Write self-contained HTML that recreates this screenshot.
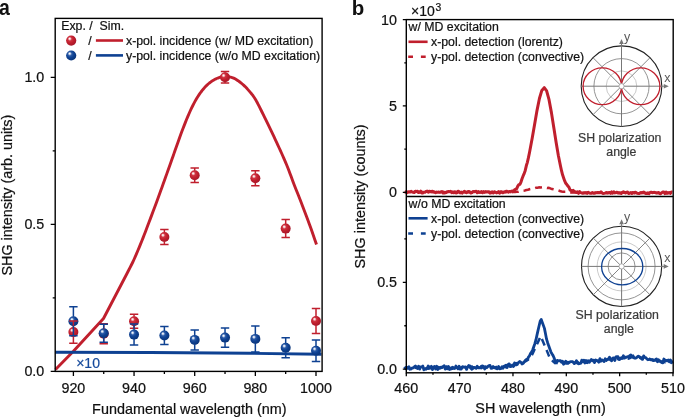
<!DOCTYPE html>
<html><head><meta charset="utf-8"><style>
html,body{margin:0;padding:0;background:#fff;}
body{width:685px;height:417px;overflow:hidden;font-family:"Liberation Sans",sans-serif;}
svg{display:block;will-change:transform;}
</style></head><body><svg width="685" height="417" viewBox="0 0 685 417" font-family="'Liberation Sans', sans-serif"><defs><radialGradient id="gr" cx="0.42" cy="0.4" r="0.62" fx="0.34" fy="0.3"><stop offset="0" stop-color="#ffffff"/><stop offset="0.12" stop-color="#f6d6d8"/><stop offset="0.32" stop-color="#cf3341"/><stop offset="0.6" stop-color="#c11f2d"/><stop offset="1" stop-color="#a5172a"/></radialGradient><radialGradient id="gb" cx="0.42" cy="0.4" r="0.62" fx="0.34" fy="0.3"><stop offset="0" stop-color="#ffffff"/><stop offset="0.12" stop-color="#d3ddef"/><stop offset="0.32" stop-color="#2a5aa6"/><stop offset="0.6" stop-color="#0e4192"/><stop offset="1" stop-color="#0a3377"/></radialGradient></defs><path d="M55.50,369.60 L73.40,351.30 L103.50,318.50 L127.00,273.50 L127.75,272.03 L128.79,270.04 L130.01,267.66 L131.35,265.02 L132.71,262.26 L134.00,259.50 L135.26,256.68 L136.56,253.69 L137.88,250.56 L139.21,247.37 L140.52,244.16 L141.80,241.00 L143.04,237.89 L144.25,234.78 L145.44,231.66 L146.64,228.50 L147.85,225.29 L149.10,222.00 L150.39,218.61 L151.71,215.13 L153.04,211.59 L154.38,208.04 L155.71,204.49 L157.00,201.00 L158.27,197.53 L159.53,194.06 L160.78,190.59 L162.01,187.17 L163.22,183.80 L164.40,180.50 L165.55,177.28 L166.68,174.13 L167.79,171.03 L168.87,167.98 L169.94,164.97 L171.00,162.00 L172.03,159.07 L173.04,156.20 L174.04,153.38 L175.02,150.57 L176.01,147.79 L177.00,145.00 L177.99,142.23 L178.96,139.50 L179.92,136.78 L180.91,134.06 L181.93,131.30 L183.00,128.50 L184.13,125.60 L185.31,122.60 L186.53,119.58 L187.76,116.59 L188.99,113.71 L190.20,111.00 L191.40,108.45 L192.60,106.00 L193.80,103.66 L195.00,101.43 L196.20,99.31 L197.40,97.30 L198.60,95.41 L199.80,93.65 L201.00,91.99 L202.20,90.44 L203.40,88.98 L204.60,87.60 L205.80,86.31 L207.00,85.12 L208.20,84.02 L209.40,83.00 L210.60,82.07 L211.80,81.20 L213.01,80.41 L214.24,79.70 L215.48,79.06 L216.69,78.50 L217.87,78.02 L219.00,77.60 L220.04,77.25 L220.99,76.98 L221.91,76.78 L222.85,76.65 L223.86,76.59 L225.00,76.60 L226.28,76.65 L227.67,76.75 L229.13,76.92 L230.63,77.18 L232.13,77.57 L233.60,78.10 L235.06,78.81 L236.55,79.69 L238.04,80.68 L239.51,81.76 L240.94,82.88 L242.30,84.00 L243.60,85.14 L244.87,86.35 L246.09,87.59 L247.27,88.86 L248.40,90.14 L249.50,91.40 L250.54,92.62 L251.51,93.79 L252.44,94.98 L253.35,96.21 L254.26,97.53 L255.20,99.00 L256.14,100.59 L257.07,102.28 L258.01,104.06 L258.96,105.93 L259.95,107.91 L261.00,110.00 L262.12,112.23 L263.30,114.61 L264.51,117.09 L265.75,119.63 L266.98,122.18 L268.20,124.70 L269.40,127.19 L270.60,129.68 L271.80,132.19 L273.00,134.71 L274.20,137.24 L275.40,139.80 L276.62,142.41 L277.86,145.07 L279.09,147.75 L280.31,150.41 L281.49,153.00 L282.60,155.50 L283.64,157.87 L284.63,160.14 L285.58,162.36 L286.49,164.54 L287.40,166.75 L288.30,169.00 L289.16,171.23 L289.97,173.41 L290.76,175.59 L291.59,177.87 L292.48,180.31 L293.50,183.00 L294.66,185.98 L295.93,189.19 L297.28,192.57 L298.67,196.04 L300.05,199.55 L301.40,203.00 L302.72,206.43 L304.06,209.91 L305.39,213.41 L306.72,216.92 L308.02,220.42 L309.30,223.90 L310.62,227.59 L312.02,231.55 L313.39,235.51 L314.66,239.17 L315.72,242.26 L316.50,244.50" fill="none" stroke="#c01f2d" stroke-width="2.9" stroke-linejoin="round"/><path d="M55.2,352.2 L150,352.5 L250,353.3 L321.5,354.2" fill="none" stroke="#0e4192" stroke-width="2.9"/><circle cx="73.40" cy="332.10" r="5.0" fill="url(#gr)"/><circle cx="103.73" cy="333.80" r="5.0" fill="url(#gr)"/><circle cx="134.05" cy="321.20" r="5.0" fill="url(#gr)"/><circle cx="164.38" cy="237.00" r="5.0" fill="url(#gr)"/><circle cx="194.70" cy="175.30" r="5.0" fill="url(#gr)"/><circle cx="225.03" cy="77.30" r="5.0" fill="url(#gr)"/><circle cx="255.35" cy="178.20" r="5.0" fill="url(#gr)"/><circle cx="285.68" cy="228.60" r="5.0" fill="url(#gr)"/><circle cx="316.00" cy="321.00" r="5.0" fill="url(#gr)"/><circle cx="73.40" cy="321.30" r="5.0" fill="url(#gb)"/><circle cx="103.73" cy="333.30" r="5.0" fill="url(#gb)"/><circle cx="134.05" cy="334.60" r="5.0" fill="url(#gb)"/><circle cx="164.38" cy="335.50" r="5.0" fill="url(#gb)"/><circle cx="194.70" cy="339.90" r="5.0" fill="url(#gb)"/><circle cx="225.03" cy="337.60" r="5.0" fill="url(#gb)"/><circle cx="255.35" cy="338.90" r="5.0" fill="url(#gb)"/><circle cx="285.68" cy="347.80" r="5.0" fill="url(#gb)"/><circle cx="316.00" cy="350.70" r="5.0" fill="url(#gb)"/><path d="M73.40,320.90 V327.60 M73.40,336.60 V343.30 M69.20,320.90 H77.60 M69.20,343.30 H77.60" stroke="#c01f2d" stroke-width="1.5" fill="none"/><path d="M103.73,323.80 V329.30 M103.73,338.30 V343.80 M99.53,323.80 H107.93 M99.53,343.80 H107.93" stroke="#c01f2d" stroke-width="1.5" fill="none"/><path d="M134.05,314.20 V316.70 M134.05,325.70 V328.20 M129.85,314.20 H138.25 M129.85,328.20 H138.25" stroke="#c01f2d" stroke-width="1.5" fill="none"/><path d="M164.38,229.50 V232.50 M164.38,241.50 V244.50 M160.18,229.50 H168.57 M160.18,244.50 H168.57" stroke="#c01f2d" stroke-width="1.5" fill="none"/><path d="M194.70,168.10 V170.80 M194.70,179.80 V182.50 M190.50,168.10 H198.90 M190.50,182.50 H198.90" stroke="#c01f2d" stroke-width="1.5" fill="none"/><path d="M225.03,71.50 V72.80 M225.03,81.80 V83.10 M220.83,71.50 H229.22 M220.83,83.10 H229.22" stroke="#c01f2d" stroke-width="1.5" fill="none"/><path d="M255.35,170.70 V173.70 M255.35,182.70 V185.70 M251.15,170.70 H259.55 M251.15,185.70 H259.55" stroke="#c01f2d" stroke-width="1.5" fill="none"/><path d="M285.68,219.60 V224.10 M285.68,233.10 V237.60 M281.48,219.60 H289.88 M281.48,237.60 H289.88" stroke="#c01f2d" stroke-width="1.5" fill="none"/><path d="M316.00,308.50 V316.50 M316.00,325.50 V333.50 M311.80,308.50 H320.20 M311.80,333.50 H320.20" stroke="#c01f2d" stroke-width="1.5" fill="none"/><path d="M73.40,306.80 V316.80 M73.40,325.80 V335.80 M69.20,306.80 H77.60 M69.20,335.80 H77.60" stroke="#0e4192" stroke-width="1.5" fill="none"/><path d="M103.73,324.30 V328.80 M103.73,337.80 V342.30 M99.53,324.30 H107.93 M99.53,342.30 H107.93" stroke="#0e4192" stroke-width="1.5" fill="none"/><path d="M134.05,324.10 V330.10 M134.05,339.10 V345.10 M129.85,324.10 H138.25 M129.85,345.10 H138.25" stroke="#0e4192" stroke-width="1.5" fill="none"/><path d="M164.38,326.50 V331.00 M164.38,340.00 V344.50 M160.18,326.50 H168.57 M160.18,344.50 H168.57" stroke="#0e4192" stroke-width="1.5" fill="none"/><path d="M194.70,329.90 V335.40 M194.70,344.40 V349.90 M190.50,329.90 H198.90 M190.50,349.90 H198.90" stroke="#0e4192" stroke-width="1.5" fill="none"/><path d="M225.03,328.00 V333.10 M225.03,342.10 V347.20 M220.83,328.00 H229.22 M220.83,347.20 H229.22" stroke="#0e4192" stroke-width="1.5" fill="none"/><path d="M255.35,325.90 V334.40 M255.35,343.40 V351.90 M251.15,325.90 H259.55 M251.15,351.90 H259.55" stroke="#0e4192" stroke-width="1.5" fill="none"/><path d="M285.68,337.80 V343.30 M285.68,352.30 V357.80 M281.48,337.80 H289.88 M281.48,357.80 H289.88" stroke="#0e4192" stroke-width="1.5" fill="none"/><path d="M316.00,340.00 V346.20 M316.00,355.20 V361.40 M311.80,340.00 H320.20 M311.80,361.40 H320.20" stroke="#0e4192" stroke-width="1.5" fill="none"/><text x="76.2" y="368.3" font-size="14" fill="#164a9c" stroke="#164a9c" stroke-width="0.22">×10</text><rect x="55.2" y="18.4" width="266.90000000000003" height="353.0" fill="none" stroke="#000" stroke-width="1.4"/><path d="M50.70,371.40 H55.2 M50.70,224.35 H55.2 M50.70,77.30 H55.2 M52.70,297.88 H55.2 M52.70,150.82 H55.2 M73.40,371.4 V376.0 M134.05,371.4 V376.0 M194.70,371.4 V376.0 M255.35,371.4 V376.0 M316.00,371.4 V376.0 M103.73,371.4 V373.9 M164.38,371.4 V373.9 M225.03,371.4 V373.9 M285.68,371.4 V373.9" stroke="#000" stroke-width="1.3" fill="none"/><text x="44.3" y="376.40" font-size="14.3" text-anchor="end" fill="#111" stroke="#111" stroke-width="0.22">0.0</text><text x="44.3" y="229.35" font-size="14.3" text-anchor="end" fill="#111" stroke="#111" stroke-width="0.22">0.5</text><text x="44.3" y="82.30" font-size="14.3" text-anchor="end" fill="#111" stroke="#111" stroke-width="0.22">1.0</text><text x="73.40" y="392.7" font-size="14.3" text-anchor="middle" fill="#111" stroke="#111" stroke-width="0.22">920</text><text x="134.05" y="392.7" font-size="14.3" text-anchor="middle" fill="#111" stroke="#111" stroke-width="0.22">940</text><text x="194.70" y="392.7" font-size="14.3" text-anchor="middle" fill="#111" stroke="#111" stroke-width="0.22">960</text><text x="255.35" y="392.7" font-size="14.3" text-anchor="middle" fill="#111" stroke="#111" stroke-width="0.22">980</text><text x="316.00" y="392.7" font-size="14.3" text-anchor="middle" fill="#111" stroke="#111" stroke-width="0.22">1000</text><text x="189.3" y="413.9" font-size="14.4" text-anchor="middle" fill="#111" stroke="#111" stroke-width="0.22">Fundamental wavelength (nm)</text><text transform="translate(11.6,195.2) rotate(-90)" font-size="14.4" text-anchor="middle" fill="#111" stroke="#111" stroke-width="0.22">SHG intensity (arb. units)</text><text transform="translate(-0.9,14.7) scale(0.95,1.08)" font-size="20.5" font-weight="bold" fill="#111">a</text><text x="61.2" y="29.9" font-size="12.3" fill="#111" xml:space="preserve" stroke="#111" stroke-width="0.22">Exp. /  Sim.</text><circle cx="71.2" cy="40.6" r="5.1" fill="url(#gr)"/><circle cx="71.2" cy="55.5" r="5.1" fill="url(#gb)"/><text x="88.3" y="44.6" font-size="12.3" fill="#111" stroke="#111" stroke-width="0.22">/</text><text x="88.3" y="59.5" font-size="12.3" fill="#111" stroke="#111" stroke-width="0.22">/</text><path d="M95.9,40.5 H123" stroke="#c01f2d" stroke-width="2.6"/><path d="M95.9,55.4 H123" stroke="#0e4192" stroke-width="2.6"/><text x="126" y="44.6" font-size="12.3" fill="#111" stroke="#111" stroke-width="0.22">x-pol. incidence (w/ MD excitation)</text><text x="126" y="59.5" font-size="12.3" fill="#111" stroke="#111" stroke-width="0.22">y-pol. incidence (w/o MD excitation)</text><path d="M404.70,191.86 L405.77,192.07 L406.83,192.76 L407.90,191.90 L408.97,191.98 L410.03,192.13 L411.10,191.37 L412.17,192.00 L413.23,192.23 L414.30,192.54 L415.37,191.22 L416.43,191.62 L417.50,191.22 L418.57,192.59 L419.63,192.37 L420.70,191.14 L421.77,192.93 L422.83,192.90 L423.90,192.31 L424.97,192.24 L426.03,191.37 L427.10,191.11 L428.17,192.09 L429.23,191.20 L430.30,191.45 L431.37,191.55 L432.43,191.15 L433.50,191.98 L434.57,191.94 L435.63,192.71 L436.70,192.10 L437.77,192.33 L438.83,192.07 L439.90,192.38 L440.97,192.00 L442.04,191.66 L443.10,193.03 L444.17,193.03 L445.24,192.74 L446.30,192.49 L447.37,191.75 L448.44,191.59 L449.50,191.71 L450.57,191.30 L451.64,192.62 L452.70,191.93 L453.77,192.78 L454.84,191.91 L455.90,193.00 L456.97,192.79 L458.04,191.19 L459.10,191.59 L460.17,192.93 L461.24,192.09 L462.30,193.07 L463.37,191.96 L464.44,191.35 L465.50,192.41 L466.57,192.70 L467.64,191.74 L468.70,191.39 L469.77,191.86 L470.84,193.07 L471.90,192.68 L472.97,191.47 L474.04,191.71 L475.10,191.44 L476.17,191.37 L477.24,192.77 L478.30,191.60 L479.37,192.33 L480.44,192.12 L481.50,191.63 L482.57,192.67 L483.64,191.53 L484.70,192.51 L485.77,191.51 L486.84,192.09 L487.90,191.70 L488.97,191.81 L490.04,193.15 L491.10,192.83 L492.17,191.89 L493.24,193.00 L494.30,191.72 L495.37,192.07 L496.44,192.95 L497.50,192.55 L498.57,191.52 L499.64,193.21 L500.70,191.74 L501.77,191.82 L502.84,192.79 L503.90,191.93 L504.97,191.84 L506.04,191.37 L507.11,191.34 L508.17,192.18 L509.24,191.39 L510.31,191.87 L511.37,191.16 L512.44,190.93 L513.51,191.40 L514.57,189.85 L515.64,189.20 L516.71,188.74 L517.77,186.20 L518.84,184.65 L519.91,184.31 L520.97,182.04 L522.04,178.68 L523.11,175.93 L524.17,173.65 L525.24,170.44 L526.31,165.80 L527.37,162.35 L528.44,157.67 L529.51,152.45 L532.23,138.08 L534.63,124.17 L537.03,110.36 L539.43,98.46 L541.83,90.40 L544.23,87.68 L546.63,90.94 L549.03,99.72 L551.43,112.63 L553.83,127.73 L556.23,143.02 L558.31,155.22 L559.37,160.47 L560.44,165.70 L561.51,170.72 L562.57,174.85 L563.64,177.94 L564.71,180.95 L565.77,183.27 L566.84,184.57 L567.91,185.99 L568.97,187.27 L570.04,190.03 L571.11,190.47 L572.17,191.61 L573.24,190.32 L574.31,191.86 L575.38,191.84 L576.44,192.52 L577.51,191.89 L578.58,193.29 L579.64,191.61 L580.71,192.56 L581.78,192.96 L582.84,193.30 L583.91,193.01 L584.98,192.96 L586.04,193.14 L587.11,193.38 L588.18,192.32 L589.24,192.96 L590.31,193.37 L591.38,193.32 L592.44,192.46 L593.51,193.17 L594.58,193.32 L595.64,192.77 L596.71,192.87 L597.78,192.41 L598.84,192.80 L599.91,192.85 L600.98,191.85 L602.04,192.92 L603.11,193.59 L604.18,193.38 L605.24,193.10 L606.31,192.46 L607.38,193.12 L608.44,192.83 L609.51,192.57 L610.58,193.33 L611.64,191.90 L612.71,193.17 L613.78,191.80 L614.84,192.89 L615.91,192.67 L616.98,192.19 L618.04,193.09 L619.11,192.71 L620.18,192.93 L621.24,193.52 L622.31,192.26 L623.38,191.80 L624.44,192.35 L625.51,193.07 L626.58,192.17 L627.64,192.12 L628.71,193.52 L629.78,193.05 L630.84,192.64 L631.91,193.50 L632.98,192.43 L634.04,193.08 L635.11,192.20 L636.18,192.64 L637.24,193.36 L638.31,193.57 L639.38,193.51 L640.45,192.57 L641.51,192.95 L642.58,192.45 L643.65,192.11 L644.71,192.80 L645.78,193.45 L646.85,193.47 L647.91,193.22 L648.98,193.67 L650.05,192.40 L651.11,192.20 L652.18,192.74 L653.25,192.41 L654.31,192.29 L655.38,192.68 L656.45,193.08 L657.51,192.84 L658.58,192.50 L659.65,193.50 L660.71,193.78 L661.78,192.77 L662.85,192.06 L663.91,191.98 L664.98,193.58 L666.05,192.01 L667.11,193.28 L668.18,193.02 L669.25,192.53 L670.31,193.45 L671.38,191.99 L672.45,192.21" fill="none" stroke="#c01f2d" stroke-width="3.0" stroke-linejoin="round"/><path d="M404.70,191.94 L406.30,192.03 L407.90,192.04 L409.50,191.79 L411.10,191.73 L412.70,191.91 L414.30,191.87 L415.90,192.14 L417.50,192.09 L419.10,192.05 L420.70,192.03 L422.30,192.09 L423.90,191.84 L425.50,191.99 L427.10,191.86 L428.70,192.24 L430.30,191.82 L431.90,192.21 L433.50,191.84 L435.10,192.15 L436.70,191.98 L438.30,192.02 L439.90,192.25 L441.50,191.84 L443.10,191.87 L444.70,192.30 L446.30,192.10 L447.90,191.90 L449.50,192.35 L451.10,192.34 L452.70,191.93 L454.30,192.09 L455.90,191.95 L457.50,192.04 L459.10,192.20 L460.70,191.98 L462.30,192.25 L463.90,191.94 L465.50,192.00 L467.10,192.33 L468.70,192.13 L470.30,192.14 L471.90,192.24 L473.50,192.18 L475.10,192.14 L476.70,191.97 L478.30,192.32 L479.90,192.45 L481.50,192.46 L483.10,192.31 L484.70,192.16 L486.30,192.17 L487.90,192.34 L489.50,192.34 L491.10,192.06 L492.70,192.13 L494.30,192.20 L495.90,192.28 L497.50,192.43 L499.10,192.28 L500.70,192.04 L502.30,192.44 L503.90,192.24 L505.50,192.27 L507.11,192.11 L508.71,192.19 L510.31,192.13 L511.91,192.26 L513.51,191.85 L515.11,191.98 L516.71,191.66 L518.31,191.75 L519.91,191.22 L521.51,191.09 L523.11,190.83 L524.71,190.65 L526.31,189.98 L527.91,189.79 L529.51,189.25 L531.11,188.86 L532.71,188.55 L534.31,188.41 L535.91,187.83 L537.51,187.80 L539.11,187.21 L540.71,187.49 L542.31,187.20 L543.91,187.19 L545.51,187.65 L547.11,187.99 L548.71,187.86 L550.31,188.37 L551.91,189.04 L553.51,189.26 L555.11,189.64 L556.71,189.94 L558.31,190.35 L559.91,190.99 L561.51,191.49 L563.11,191.77 L564.71,191.75 L566.31,191.70 L567.91,192.01 L569.51,192.36 L571.11,192.48 L572.71,192.46 L574.31,192.31 L575.91,192.50 L577.51,192.50 L579.11,192.60 L580.71,192.44 L582.31,192.79 L583.91,192.78 L585.51,192.42 L587.11,192.49 L588.71,192.79 L590.31,192.50 L591.91,192.84 L593.51,192.63 L595.11,192.72 L596.71,192.74 L598.31,192.50 L599.91,192.54 L601.51,192.53 L603.11,192.75 L604.71,192.76 L606.31,192.48 L607.91,192.87 L609.51,192.64 L611.11,192.55 L612.71,192.66 L614.31,192.94 L615.91,192.73 L617.51,192.77 L619.11,192.92 L620.71,192.95 L622.31,192.85 L623.91,192.69 L625.51,192.78 L627.11,192.94 L628.71,192.89 L630.31,192.79 L631.91,192.68 L633.51,192.70 L635.11,192.89 L636.71,192.81 L638.31,192.54 L639.91,192.89 L641.51,192.99 L643.11,192.95 L644.71,193.00 L646.31,193.01 L647.91,192.83 L649.51,192.97 L651.11,192.77 L652.71,192.63 L654.31,192.76 L655.91,192.75 L657.51,193.07 L659.11,192.95 L660.71,192.88 L662.31,192.93 L663.91,192.68 L665.51,192.89 L667.11,192.98 L668.71,192.84 L670.31,192.77 L671.91,192.85" fill="none" stroke="#c01f2d" stroke-width="2.5" stroke-dasharray="7,5"/><path d="M404.70,368.81 L406.30,367.34 L407.90,367.12 L409.50,368.86 L411.10,367.38 L412.70,367.26 L414.30,368.20 L415.90,367.64 L417.50,368.61 L419.10,367.42 L420.70,368.72 L422.30,367.55 L423.90,368.05 L425.50,368.64 L427.10,368.18 L428.70,368.60 L430.30,368.20 L431.90,367.00 L433.50,368.49 L435.10,367.94 L436.70,367.42 L438.30,367.18 L439.90,368.35 L441.50,367.85 L443.10,368.47 L444.70,368.15 L446.30,368.47 L447.90,367.73 L449.50,367.95 L451.10,367.78 L452.70,367.12 L454.30,368.35 L455.90,367.17 L457.50,368.00 L459.10,368.29 L460.70,367.73 L462.30,366.80 L463.90,368.02 L465.50,367.73 L467.10,366.85 L468.70,366.59 L470.30,367.45 L471.90,366.54 L473.50,368.14 L475.10,367.37 L476.70,367.38 L478.30,367.18 L479.90,367.62 L481.50,368.07 L483.10,366.96 L484.70,367.07 L486.30,367.44 L487.90,366.89 L489.50,367.39 L491.10,367.26 L492.70,367.03 L494.30,367.43 L495.90,367.13 L497.50,366.30 L499.10,367.90 L500.70,366.72 L502.30,366.82 L503.90,366.56 L505.50,367.31 L507.11,367.14 L508.71,366.15 L510.31,365.74 L511.91,364.99 L513.51,366.22 L515.11,364.64 L516.71,364.88 L518.31,364.09 L519.91,363.62 L521.51,363.24 L523.11,362.56 L524.71,361.68 L526.31,360.96 L527.91,359.80 L529.51,358.26 L531.11,356.63 L532.71,353.53 L534.31,349.91 L535.91,346.54 L537.51,343.11 L539.11,339.64 L540.71,336.18 L542.31,339.95 L543.91,343.72 L545.51,347.50 L547.11,351.38 L548.71,355.40 L550.31,359.23 L551.91,360.38 L553.51,361.86 L555.11,363.09 L556.71,362.83 L558.31,363.55 L559.91,363.76 L561.51,363.46 L563.11,364.09 L564.71,362.42 L566.31,363.29 L567.91,363.53 L569.51,363.00 L571.11,362.62 L572.71,363.45 L574.31,362.87 L575.91,362.46 L577.51,361.94 L579.11,363.49 L580.71,362.27 L582.31,361.74 L583.91,361.80 L585.51,361.76 L587.11,362.75 L588.71,361.40 L590.31,361.44 L591.91,360.93 L593.51,361.42 L595.11,360.76 L596.71,360.83 L598.31,361.35 L599.91,361.51 L601.51,361.16 L603.11,359.54 L604.71,359.97 L606.31,360.64 L607.91,358.98 L609.51,359.11 L611.11,359.51 L612.71,359.21 L614.31,359.76 L615.91,359.59 L617.51,359.03 L619.11,358.53 L620.71,358.34 L622.31,358.22 L623.91,357.68 L625.51,358.58 L627.11,357.48 L628.71,358.61 L630.31,357.99 L631.91,357.03 L633.51,357.92 L635.11,358.21 L636.71,357.29 L638.31,358.19 L639.91,357.46 L641.51,358.88 L643.11,357.61 L644.71,358.84 L646.31,359.77 L647.91,359.82 L649.51,359.01 L651.11,359.85 L652.71,359.44 L654.31,360.10 L655.91,361.34 L657.51,361.55 L659.11,360.40 L660.71,361.26 L662.31,361.87 L663.91,361.18 L665.51,362.46 L667.11,362.77 L668.71,362.30 L670.31,362.10 L671.91,363.13" fill="none" stroke="#0e4192" stroke-width="2.5" stroke-dasharray="7,5"/><path d="M404.70,366.64 L405.77,368.74 L406.83,368.52 L407.90,367.89 L408.97,366.83 L410.03,369.13 L411.10,369.18 L412.17,367.99 L413.23,367.96 L414.30,366.88 L415.37,365.94 L416.43,367.40 L417.50,368.25 L418.57,366.18 L419.63,369.07 L420.70,366.82 L421.77,366.81 L422.83,366.04 L423.90,369.86 L424.97,368.82 L426.03,369.35 L427.10,368.31 L428.17,365.98 L429.23,367.15 L430.30,367.82 L431.37,366.28 L432.43,369.62 L433.50,367.28 L434.57,366.41 L435.63,369.04 L436.70,366.26 L437.77,369.46 L438.83,367.55 L439.90,367.93 L440.97,367.08 L442.04,367.63 L443.10,366.43 L444.17,365.81 L445.24,369.11 L446.30,366.58 L447.37,368.74 L448.44,366.44 L449.50,369.47 L450.57,369.16 L451.64,368.59 L452.70,368.60 L453.77,367.86 L454.84,368.44 L455.90,366.00 L456.97,367.40 L458.04,368.79 L459.10,366.27 L460.17,369.15 L461.24,369.00 L462.30,367.08 L463.37,366.90 L464.44,367.24 L465.50,366.97 L466.57,369.40 L467.64,366.96 L468.70,365.51 L469.77,365.77 L470.84,368.26 L471.90,369.35 L472.97,367.36 L474.04,367.33 L475.10,367.56 L476.17,368.35 L477.24,366.24 L478.30,367.78 L479.37,367.56 L480.44,367.82 L481.50,366.04 L482.57,365.99 L483.64,366.70 L484.70,369.01 L485.77,366.68 L486.84,367.66 L487.90,366.46 L488.97,365.61 L490.04,365.43 L491.10,368.39 L492.17,368.21 L493.24,366.56 L494.30,367.76 L495.37,367.70 L496.44,368.55 L497.50,368.76 L498.57,366.52 L499.64,368.81 L500.70,368.66 L501.77,367.15 L502.84,368.21 L503.90,366.46 L504.97,365.82 L506.04,365.12 L507.11,367.46 L508.17,364.42 L509.24,363.87 L510.31,366.63 L511.37,366.32 L512.44,364.98 L513.51,366.21 L514.57,362.89 L515.64,363.42 L516.71,363.26 L517.77,363.49 L518.84,362.21 L519.91,361.51 L520.97,362.30 L522.04,363.95 L523.11,363.51 L524.17,361.96 L525.24,360.52 L526.31,359.39 L527.37,359.64 L528.44,357.11 L529.51,355.79 L530.57,353.27 L531.64,351.94 L532.71,349.81 L533.77,346.70 L534.84,343.67 L535.91,339.98 L536.97,335.13 L538.04,330.35 L539.11,325.76 L540.17,321.32 L541.24,319.48 L542.31,322.43 L543.37,325.40 L544.44,328.38 L545.51,333.78 L546.57,339.18 L547.64,342.69 L548.71,345.83 L549.77,348.71 L550.84,351.80 L551.91,353.75 L552.97,355.36 L554.04,357.71 L555.11,360.96 L556.17,361.77 L557.24,360.34 L558.31,360.83 L559.37,360.75 L560.44,360.55 L561.51,362.33 L562.57,361.18 L563.64,364.13 L564.71,363.33 L565.77,361.26 L566.84,362.96 L567.91,362.15 L568.97,362.87 L570.04,361.82 L571.11,361.53 L572.17,361.53 L573.24,362.23 L574.31,363.48 L575.38,362.77 L576.44,360.68 L577.51,363.26 L578.58,363.84 L579.64,363.36 L580.71,363.35 L581.78,360.15 L582.84,361.90 L583.91,360.22 L584.98,362.95 L586.04,360.52 L587.11,362.59 L588.18,360.68 L589.24,362.38 L590.31,360.74 L591.38,359.51 L592.44,360.76 L593.51,360.30 L594.58,362.52 L595.64,359.96 L596.71,360.65 L597.78,360.69 L598.84,362.15 L599.91,358.61 L600.98,360.48 L602.04,359.97 L603.11,360.73 L604.18,361.52 L605.24,358.75 L606.31,360.17 L607.38,359.33 L608.44,359.33 L609.51,357.20 L610.58,360.13 L611.64,360.71 L612.71,358.15 L613.78,357.93 L614.84,360.55 L615.91,356.94 L616.98,356.74 L618.04,356.65 L619.11,359.54 L620.18,359.21 L621.24,357.81 L622.31,358.35 L623.38,355.78 L624.44,358.13 L625.51,357.16 L626.58,357.30 L627.64,356.64 L628.71,356.53 L629.78,355.67 L630.84,354.91 L631.91,356.52 L632.98,355.84 L634.04,357.73 L635.11,358.25 L636.18,357.94 L637.24,356.93 L638.31,356.11 L639.38,356.78 L640.45,357.25 L641.51,357.89 L642.58,359.28 L643.65,355.83 L644.71,357.47 L645.78,357.73 L646.85,358.85 L647.91,359.75 L648.98,359.52 L650.05,359.12 L651.11,359.86 L652.18,359.70 L653.25,360.68 L654.31,360.25 L655.38,360.40 L656.45,358.86 L657.51,361.75 L658.58,359.84 L659.65,360.97 L660.71,361.92 L661.78,362.59 L662.85,362.80 L663.91,358.98 L664.98,360.32 L666.05,360.42 L667.11,360.85 L668.18,359.98 L669.25,361.72 L670.31,359.94 L671.38,360.94 L672.45,363.62" fill="none" stroke="#0e4192" stroke-width="2.8" stroke-linejoin="round"/><rect x="406.3" y="19.6" width="266.90000000000003" height="353.2" fill="none" stroke="#000" stroke-width="1.4"/><path d="M406.3,196.5 H673.2" stroke="#000" stroke-width="1.4"/><path d="M402.80,192.30 H406.3 M402.80,105.95 H406.3 M402.80,19.60 H406.3 M404.30,149.12 H406.3 M404.30,62.78 H406.3 M402.80,369.20 H406.3 M402.80,282.30 H406.3 M404.30,325.75 H406.3 M404.30,238.85 H406.3 M406.30,372.8 V376.3 M459.64,372.8 V376.3 M512.97,372.8 V376.3 M566.31,372.8 V376.3 M619.64,372.8 V376.3 M672.98,372.8 V376.3 M432.97,372.8 V374.8 M486.30,372.8 V374.8 M539.64,372.8 V374.8 M592.98,372.8 V374.8 M646.31,372.8 V374.8" stroke="#000" stroke-width="1.3" fill="none"/><text x="397" y="197.30" font-size="14.3" text-anchor="end" fill="#111" stroke="#111" stroke-width="0.22">0</text><text x="397" y="110.95" font-size="14.3" text-anchor="end" fill="#111" stroke="#111" stroke-width="0.22">5</text><text x="397" y="24.60" font-size="14.3" text-anchor="end" fill="#111" stroke="#111" stroke-width="0.22">10</text><text x="397" y="374.20" font-size="14.3" text-anchor="end" fill="#111" stroke="#111" stroke-width="0.22">0.0</text><text x="397" y="287.30" font-size="14.3" text-anchor="end" fill="#111" stroke="#111" stroke-width="0.22">0.5</text><text x="406.30" y="392.7" font-size="14.3" text-anchor="middle" fill="#111" stroke="#111" stroke-width="0.22">460</text><text x="459.64" y="392.7" font-size="14.3" text-anchor="middle" fill="#111" stroke="#111" stroke-width="0.22">470</text><text x="512.97" y="392.7" font-size="14.3" text-anchor="middle" fill="#111" stroke="#111" stroke-width="0.22">480</text><text x="566.31" y="392.7" font-size="14.3" text-anchor="middle" fill="#111" stroke="#111" stroke-width="0.22">490</text><text x="619.64" y="392.7" font-size="14.3" text-anchor="middle" fill="#111" stroke="#111" stroke-width="0.22">500</text><text x="672.98" y="392.7" font-size="14.3" text-anchor="middle" fill="#111" stroke="#111" stroke-width="0.22">510</text><text x="540.5" y="413.1" font-size="14.4" text-anchor="middle" fill="#111" stroke="#111" stroke-width="0.22">SH wavelength (nm)</text><text transform="translate(365.0,196.5) rotate(-90)" font-size="14.4" text-anchor="middle" fill="#111" stroke="#111" stroke-width="0.22">SHG intensity (counts)</text><text transform="translate(351.7,14.6) scale(1.05,1)" font-size="19.5" font-weight="bold" fill="#111">b</text><text x="411.1" y="15.8" font-size="14" fill="#111" stroke="#111" stroke-width="0.22">×10</text><text x="435.5" y="11.0" font-size="10.3" fill="#111" stroke="#111" stroke-width="0.22">3</text><text x="408.6" y="30.9" font-size="12.3" fill="#111" stroke="#111" stroke-width="0.22">w/ MD excitation</text><path d="M408.5,41.8 H427.6" stroke="#c01f2d" stroke-width="2.6"/><path d="M408.2,56.8 H426" stroke="#c01f2d" stroke-width="2.5" stroke-dasharray="4.8,7.9"/><text x="431" y="46" font-size="12.3" fill="#111" stroke="#111" stroke-width="0.22">x-pol. detection (lorentz)</text><text x="431" y="61.2" font-size="12.3" fill="#111" stroke="#111" stroke-width="0.22">y-pol. detection (convective)</text><text x="408.6" y="207.6" font-size="12.3" fill="#111" stroke="#111" stroke-width="0.22">w/o MD excitation</text><path d="M408.5,218.3 H427.6" stroke="#0e4192" stroke-width="2.6"/><path d="M408.2,233.5 H426" stroke="#0e4192" stroke-width="2.5" stroke-dasharray="4.8,7.9"/><text x="431" y="222.7" font-size="12.3" fill="#111" stroke="#111" stroke-width="0.22">x-pol. detection (convective)</text><text x="431" y="237.8" font-size="12.3" fill="#111" stroke="#111" stroke-width="0.22">y-pol. detection (convective)</text><circle cx="621.5" cy="86.2" r="40.3" fill="#fff" stroke="#222" stroke-width="1.1"/><circle cx="621.5" cy="86.2" r="27.6" fill="none" stroke="#888" stroke-width="0.9"/><circle cx="621.5" cy="86.2" r="15.3" fill="none" stroke="#c4c4c4" stroke-width="0.9"/><path d="M593.00,57.70 L650.00,114.70 M650.00,57.70 L593.00,114.70" stroke="#777" stroke-width="0.9"/><path d="M581.20,86.2 H664.80 M621.5,126.50 V42.90" stroke="#777" stroke-width="1"/><path d="M668.80,86.2 l-5,-2.3 v4.6 z M621.5,38.90 l-2.3,5 h4.6 z" fill="#777"/><ellipse cx="602.3" cy="86.2" rx="19.2" ry="18.4" fill="none" stroke="#c01f2d" stroke-width="1.3"/><ellipse cx="640.7" cy="86.2" rx="19.2" ry="18.4" fill="none" stroke="#c01f2d" stroke-width="1.3"/><circle cx="621.5" cy="86.2" r="2.6" fill="#fff" stroke="#999" stroke-width="0.8"/><text x="664.30" y="81.70" font-size="12.5" fill="#5a5a5a" class="ns">x</text><text x="624.00" y="40.90" font-size="12.5" fill="#5a5a5a" class="ns">y</text><text x="619.70" y="142.10" font-size="12.3" text-anchor="middle" fill="#3a3a3a" stroke="#3a3a3a" stroke-width="0.22">SH polarization</text><text x="621.40" y="156.20" font-size="12.3" text-anchor="middle" fill="#3a3a3a" stroke="#3a3a3a" stroke-width="0.22">angle</text><circle cx="621.6" cy="266.4" r="40.1" fill="#fff" stroke="#222" stroke-width="1.1"/><circle cx="621.6" cy="266.4" r="33.5" fill="none" stroke="#888" stroke-width="0.9"/><circle cx="621.6" cy="266.4" r="24.5" fill="none" stroke="#c4c4c4" stroke-width="0.9"/><circle cx="621.6" cy="266.4" r="13.5" fill="none" stroke="#888" stroke-width="0.9"/><path d="M593.25,238.05 L649.95,294.75 M649.95,238.05 L593.25,294.75" stroke="#777" stroke-width="0.9"/><path d="M581.50,266.4 H664.70 M621.6,306.50 V223.30" stroke="#777" stroke-width="1"/><path d="M668.70,266.4 l-5,-2.3 v4.6 z M621.6,219.30 l-2.3,5 h4.6 z" fill="#777"/><ellipse cx="622.2" cy="266.7" rx="20.6" ry="18.2" fill="none" stroke="#0e4192" stroke-width="1.3"/><circle cx="621.6" cy="266.4" r="2.6" fill="#fff" stroke="#999" stroke-width="0.8"/><text x="664.20" y="261.90" font-size="12.5" fill="#5a5a5a" class="ns">x</text><text x="624.10" y="221.30" font-size="12.5" fill="#5a5a5a" class="ns">y</text><text x="617.20" y="319.00" font-size="12.3" text-anchor="middle" fill="#3a3a3a" stroke="#3a3a3a" stroke-width="0.22">SH polarization</text><text x="618.90" y="333.10" font-size="12.3" text-anchor="middle" fill="#3a3a3a" stroke="#3a3a3a" stroke-width="0.22">angle</text></svg></body></html>
